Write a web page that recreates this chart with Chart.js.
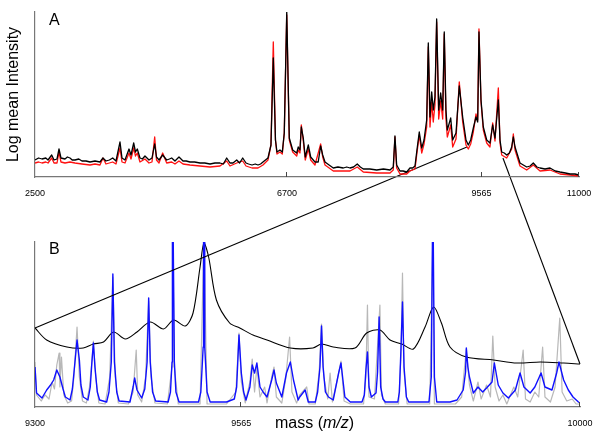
<!DOCTYPE html>
<html>
  <head>
    <script src="https://cdn.jsdelivr.net/npm/chart.js@4"></script>
    <style>
      body { margin: 0; background: #fff; }
      #wrap { position: relative; width: 600px; height: 440px; }
      canvas { position: absolute; left: 0; top: 0; }
      #xtitle {
        position: absolute; left: 275px; top: 415px;
        font: 16px 'Liberation Sans', Arial, sans-serif; line-height: 16px;
        white-space: nowrap; color: #000;
      }
    </style>
  </head>

  <body>
    <div id="wrap">
      <canvas id="canvasB" width="600" height="440"></canvas>
      <canvas id="canvasA" width="600" height="200"></canvas>
      <div id="xtitle">mass (<i>m/z</i>)</div>
    </div>
    <script>
      // panel A: full spectrum, [mass, log mean intensity (arbitrary units)]
      const A_BLACK = [
        [2500,17],[2560,19],[2617,18],[2680,19],[2717,17],[2778,22],[2817,17],[2867,18],[2900,28],[2933,19],
        [3000,18],[3040,20],[3083,19],[3120,17],[3167,17],[3230,18],[3283,16],[3350,16],[3417,15],[3500,16],
        [3583,15],[3633,19],[3683,16],[3740,17],[3795,19],[3850,16],[3917,35],[3950,19],[4000,17],[4067,28],
        [4100,22],[4145,34],[4175,25],[4205,28],[4250,19],[4290,18],[4333,21],[4400,17],[4450,19],[4495,33],
        [4525,20],[4567,17],[4628,22],[4695,17],[4740,18],[4778,19],[4833,16],[4900,20],[4967,16],[5020,16],
        [5083,15],[5160,15],[5250,14],[5330,14],[5417,13],[5500,14],[5583,14],[5640,13],[5695,19],[5750,14],
        [5800,14],[5862,17],[5910,14],[5962,19],[6017,14],[6060,13],[6117,12],[6170,13],[6217,12],[6260,13],
        [6300,15],[6383,19],[6433,32],[6472,119],[6508,37],[6533,25],[6583,27],[6622,25],[6655,44],[6696,165],
        [6734,39],[6784,27],[6843,24],[6866,30],[6891,27],[6911,50],[6940,39],[6969,20],[7014,32],[7049,20],
        [7112,15],[7160,15],[7196,31],[7226,22],[7260,15],[7320,12],[7382,9],[7450,10],[7529,9],[7580,10],
        [7628,9],[7680,10],[7735,13],[7780,10],[7824,8],[7920,8],[8021,7],[8120,8],[8217,7],[8265,10],
        [8290,41],[8315,12],[8364,6],[8410,6],[8463,5],[8511,9],[8550,9],[8585,11],[8610,25],[8648,45],
        [8684,29],[8718,37],[8757,57],[8781,134],[8806,60],[8831,85],[8854,67],[8879,80],[8904,158],[8934,67],
        [8963,84],[8993,67],[9016,145],[9041,67],[9061,47],[9111,59],[9140,37],[9189,44],[9237,91],[9287,60],
        [9336,37],[9370,32],[9405,37],[9444,49],[9483,60],[9508,55],[9527,145],[9557,77],[9591,50],[9641,37],
        [9689,34],[9729,52],[9763,39],[9812,77],[9837,37],[9862,25],[9900,24],[9935,22],[9975,24],[10009,30],
        [10033,40],[10058,30],[10131,14],[10180,12],[10230,10],[10280,11],[10327,14],[10380,10],[10426,9],[10500,8],
        [10573,9],[10650,6],[10720,5],[10800,4],[10868,3],[10940,3],[11000,2]
      ];
      const A_RED = [
        [2500,14],[2560,15],[2617,14],[2680,15],[2717,14],[2778,19],[2817,14],[2867,14],[2900,25],[2933,15],
        [3000,14],[3083,15],[3167,14],[3283,13],[3417,12],[3500,13],[3583,12],[3633,19],[3683,13],[3795,15],
        [3850,13],[3917,29],[3950,15],[4000,14],[4067,24],[4100,18],[4145,29],[4175,21],[4205,24],[4250,15],
        [4333,18],[4400,14],[4450,15],[4495,40],[4525,17],[4567,14],[4628,24],[4695,14],[4778,15],[4833,13],
        [4900,16],[4967,13],[5083,12],[5250,11],[5417,10],[5583,11],[5695,16],[5750,11],[5862,14],[5962,16],
        [6017,11],[6117,9],[6217,9],[6300,12],[6383,17],[6433,32],[6472,135],[6508,37],[6533,23],[6583,25],
        [6622,23],[6655,44],[6696,162],[6734,37],[6784,25],[6843,21],[6866,27],[6891,24],[6911,52],[6940,36],
        [6969,17],[7014,28],[7049,17],[7112,12],[7196,33],[7226,20],[7260,12],[7382,6],[7529,6],[7628,6],
        [7735,10],[7824,5],[8021,4],[8217,4],[8265,7],[8290,40],[8315,9],[8364,3],[8463,3],[8511,6],
        [8585,8],[8610,22],[8648,42],[8684,24],[8718,33],[8757,50],[8781,130],[8806,50],[8831,75],[8854,55],
        [8879,72],[8904,155],[8934,58],[8963,76],[8993,58],[9016,143],[9041,58],[9061,40],[9111,52],[9140,30],
        [9189,38],[9237,95],[9287,55],[9336,32],[9370,28],[9405,33],[9444,45],[9483,63],[9508,57],[9527,148],
        [9557,75],[9591,47],[9641,34],[9689,30],[9729,54],[9763,36],[9812,89],[9837,34],[9862,22],[9935,19],
        [10009,28],[10033,43],[10058,27],[10131,11],[10230,7],[10327,12],[10426,6],[10573,7],[10720,3],[10868,2],
        [11000,1]
      ];

      // panel B: zoom 9300-10000
      const B_BLUE = [
        [9300,40],[9302,14],[9309,9],[9315,17],[9320,22],[9324,27],[9328,37],[9332,30],[9336,18],[9339,10],
        [9345,7],[9348,18],[9350,34],[9354,67],[9357,47],[9359,22],[9362,10],[9368,7],[9371,20],[9373,44],
        [9375,64],[9377,40],[9380,15],[9383,7],[9392,5],[9395,15],[9398,45],[9400,133],[9402,45],[9405,15],
        [9408,6],[9422,5],[9426,20],[9428,29],[9431,17],[9437,9],[9441,18],[9444,45],[9446,109],[9448,45],
        [9451,15],[9455,6],[9471,5],[9474,15],[9476,45],[9476.5,170],[9477.5,170],[9479,45],[9481,15],[9485,5],
        [9510,5],[9513,15],[9516,60],[9516.5,170],[9517.5,170],[9518,60],[9521,15],[9525,5],[9546,5],[9556,8],
        [9559,20],[9562,72],[9565,34],[9568,15],[9571,7],[9576,20],[9579,42],[9582,34],[9585,44],[9589,20],
        [9593,15],[9598,10],[9604,27],[9607,37],[9610,24],[9617,10],[9623,34],[9628,45],[9632,27],[9638,7],
        [9640,10],[9647,17],[9651,5],[9660,5],[9663,15],[9666,40],[9668,81],[9670,40],[9673,15],[9677,10],
        [9683,7],[9690,34],[9693,44],[9698,10],[9705,5],[9720,5],[9723,12],[9725,37],[9727,55],[9729,20],
        [9732,10],[9738,14],[9740,35],[9742,90],[9744,20],[9747,8],[9750,5],[9766,5],[9768,15],[9770,57],
        [9772,105],[9774,40],[9777,10],[9780,5],[9806,5],[9809,30],[9810.5,170],[9811.5,170],[9813,30],[9816,5],
        [9833,5],[9842,7],[9850,17],[9853,35],[9854,59],[9856,40],[9858,30],[9863,14],[9869,20],[9875,15],
        [9880,19],[9887,25],[9890,44],[9895,22],[9901,14],[9908,9],[9917,17],[9923,34],[9928,20],[9936,14],
        [9942,20],[9950,34],[9955,20],[9964,17],[9970,34],[9973,45],[9979,27],[9985,17],[9991,10],[9998,5],
        [10000,4]
      ];
      const B_GRAY = [
        [9300,45],[9302,12],[9308,6],[9313,12],[9318,8],[9322,25],[9325,18],[9328,42],[9331,54],[9332,20],
        [9334,50],[9337,12],[9342,4],[9347,6],[9350,30],[9354,80],[9357,30],[9361,6],[9366,4],[9370,20],
        [9373,45],[9375,66],[9378,30],[9382,4],[9390,3],[9396,30],[9400,130],[9403,30],[9407,4],[9420,3],
        [9426,15],[9430,57],[9432,12],[9437,5],[9442,30],[9446,106],[9449,30],[9454,4],[9470,3],[9476,40],
        [9477,170],[9479,40],[9484,3],[9512,3],[9517,170],[9521,3],[9546,3],[9558,15],[9562,74],[9565,25],
        [9570,4],[9576,25],[9579,48],[9582,15],[9585,40],[9589,10],[9595,20],[9598,4],[9604,30],[9607,40],
        [9610,10],[9617,4],[9622,28],[9627,70],[9630,15],[9636,4],[9640,12],[9649,20],[9652,3],[9660,3],
        [9665,35],[9668,83],[9671,30],[9676,8],[9679,34],[9682,5],[9689,30],[9693,46],[9697,6],[9705,3],
        [9722,3],[9725,30],[9727,102],[9729,10],[9736,8],[9743,102],[9745,12],[9750,3],[9767,3],[9770,50],
        [9772,134],[9774,35],[9778,3],[9807,3],[9811,170],[9813,3],[9840,3],[9848,10],[9854,58],[9858,22],
        [9863,6],[9869,25],[9873,8],[9880,22],[9885,10],[9888,71],[9891,20],[9896,6],[9901,12],[9906,3],
        [9915,20],[9920,10],[9927,57],[9930,8],[9936,5],[9942,15],[9947,10],[9952,60],[9955,10],[9962,5],
        [9968,20],[9974,89],[9977,15],[9983,6],[9990,8],[9995,3],[10000,3]
      ];
      const B_BLACK = [
        [9300,79],[9315,67],[9341,60],[9362,59],[9375,63],[9388,65],[9401,75],[9416,68],[9431,75],[9448,85],
        [9465,78],[9478,87],[9493,81],[9503,94],[9512,140],[9517,164],[9523,150],[9533,107],[9550,84],[9563,79],
        [9580,72],[9598,67],[9628,59],[9657,59],[9668,63],[9683,60],[9711,59],[9726,74],[9743,77],[9756,67],
        [9771,63],[9786,58],[9801,80],[9812,100],[9822,84],[9833,60],[9854,50],[9889,47],[9919,44],[9949,45],
        [9979,44],[10000,43]
      ];

      const A_TICKS = [2500, 6700, 9565, 11000];
      const B_TICKS = [9300, 9565, 10000];
      // zoom window: where it sits on spectrum A and where it lands on curve B
      const ZOOM_FROM_A = [[9350, 30], [9880, 19]];
      const ZOOM_TO_B = [[9300, 79], [10000, 43]];

      // the top axis is not evenly spaced: 2500-6700 is squeezed
      const A_AXIS_BREAKS = [[2500, 0], [6700, 0.4632], [11000, 1]];

      class BrokenScale extends Chart.LinearScale {
        toDecimal(v) {
          const b = A_AXIS_BREAKS;
          let i = 1;
          while (i < b.length - 1 && v > b[i][0]) i++;
          const [v0, d0] = b[i - 1], [v1, d1] = b[i];
          return d0 + (v - v0) / (v1 - v0) * (d1 - d0);
        }
        getPixelForValue(value) {
          if (value === null || value === undefined) return NaN;
          return this.getPixelForDecimal(this.toDecimal(value));
        }
        getValueForPixel(pixel) {
          const d = this.getDecimalForPixel(pixel);
          const b = A_AXIS_BREAKS;
          let i = 1;
          while (i < b.length - 1 && d > b[i][1]) i++;
          const [v0, d0] = b[i - 1], [v1, d1] = b[i];
          return v0 + (d - d0) / (d1 - d0) * (v1 - v0);
        }
      }
      BrokenScale.id = 'broken';
      BrokenScale.defaults = Chart.LinearScale.defaults;
      Chart.register(BrokenScale);

      Chart.defaults.font.family = "'Liberation Sans', Arial, sans-serif";
      Chart.defaults.color = '#000';

      const toXY = (arr) => arr.map(([x, y]) => ({ x, y }));

      const panelLetter = {
        id: 'panelLetter',
        afterDraw(chart, args, opts) {
          const ctx = chart.ctx;
          ctx.save();
          ctx.font = "16px 'Liberation Sans', Arial, sans-serif";
          ctx.fillStyle = '#000';
          ctx.fillText(opts.text, chart.chartArea.left + opts.dx, chart.chartArea.top + opts.dy);
          ctx.restore();
        },
      };

      // small tick marks pointing up into the plot
      const innerTicks = {
        id: 'innerTicks',
        afterDraw(chart) {
          const s = chart.scales.x;
          const bottom = chart.chartArea.bottom;
          const ctx = chart.ctx;
          ctx.save();
          ctx.strokeStyle = '#444';
          ctx.lineWidth = 1;
          s.ticks.forEach((t, i) => {
            if (i === 0) return;
            const px = Math.round(s.getPixelForValue(t.value)) - 0.5;
            ctx.beginPath();
            ctx.moveTo(px, bottom);
            ctx.lineTo(px, bottom - 5);
            ctx.stroke();
          });
          ctx.restore();
        },
      };

      const xTickOpts = {
        autoSkip: false,
        maxRotation: 0,
        color: '#000',
        font: { size: 9 },
        padding: 3,
        callback: (v) => String(v),
      };

      const chartA = new Chart(document.getElementById('canvasA'), {
        type: 'line',
        data: {
          datasets: [
            { label: 'black', data: toXY(A_BLACK), borderColor: '#000', borderWidth: 1.3 },
            { label: 'red', data: toXY(A_RED), borderColor: '#ff1010', borderWidth: 1.3 },
          ],
        },
        options: {
          responsive: false,
          animation: false,
          layout: { padding: { top: 12, right: 21, left: 0, bottom: 0 } },
          elements: {
            point: { radius: 0 },
            line: { tension: 0, borderJoinStyle: 'round' },
          },
          plugins: {
            legend: { display: false },
            tooltip: { enabled: false },
            panelLetter: { text: 'A', dx: 14, dy: 13 },
          },
          scales: {
            x: {
              type: 'broken',
              min: 2500,
              max: 11000,
              grid: { display: false },
              border: { color: '#777', width: 1.2 },
              afterBuildTicks: (s) => { s.ticks = A_TICKS.map((v) => ({ value: v })); },
              afterFit: (s) => { s.height = 23; },
              ticks: xTickOpts,
            },
            y: {
              min: 0,
              max: 165,
              grid: { display: false },
              border: { color: '#777', width: 1.2 },
              ticks: { display: false },
              title: {
                display: true,
                text: 'Log mean Intensity',
                color: '#000',
                font: { size: 16 },
                padding: { top: 4, bottom: 0 },
              },
              afterFit: (s) => { s.width = 35; },
            },
          },
        },
        plugins: [panelLetter, innerTicks],
      });

      const zoomLines = {
        id: 'zoomLines',
        afterDraw(chart) {
          const ax = chartA.scales.x, ay = chartA.scales.y;
          const bx = chart.scales.x, by = chart.scales.y;
          const ctx = chart.ctx;
          ctx.save();
          ctx.strokeStyle = '#000';
          ctx.lineWidth = 1.1;
          for (let i = 0; i < 2; i++) {
            ctx.beginPath();
            ctx.moveTo(ax.getPixelForValue(ZOOM_FROM_A[i][0]), ay.getPixelForValue(ZOOM_FROM_A[i][1]));
            ctx.lineTo(bx.getPixelForValue(ZOOM_TO_B[i][0]), by.getPixelForValue(ZOOM_TO_B[i][1]));
            ctx.stroke();
          }
          ctx.restore();
        },
      };

      const chartB = new Chart(document.getElementById('canvasB'), {
        type: 'line',
        data: {
          datasets: [
            { label: 'blue', data: toXY(B_BLUE), borderColor: '#1010ff', borderWidth: 1.4 },
            { label: 'mean', data: toXY(B_BLACK), borderColor: '#000', borderWidth: 1.1, tension: 0.3 },
            { label: 'gray', data: toXY(B_GRAY), borderColor: '#b8b8b8', borderWidth: 1.2 },
          ],
        },
        options: {
          responsive: false,
          animation: false,
          layout: { padding: { top: 242, right: 20, left: 0, bottom: 0 } },
          elements: {
            point: { radius: 0 },
            line: { tension: 0, borderJoinStyle: 'round' },
          },
          plugins: {
            legend: { display: false },
            tooltip: { enabled: false },
            panelLetter: { text: 'B', dx: 14, dy: 12 },
          },
          scales: {
            x: {
              type: 'linear',
              min: 9300,
              max: 10000,
              grid: { display: false },
              border: { color: '#777', width: 1.2 },
              afterBuildTicks: (s) => { s.ticks = B_TICKS.map((v) => ({ value: v })); },
              afterFit: (s) => { s.height = 33; },
              ticks: xTickOpts,
            },
            y: {
              min: 0,
              max: 165,
              grid: { display: false },
              border: { color: '#777', width: 1.2 },
              ticks: { display: false },
              afterFit: (s) => { s.width = 35; },
            },
          },
        },
        plugins: [panelLetter, innerTicks, zoomLines],
      });
    </script>
  </body>
</html>
